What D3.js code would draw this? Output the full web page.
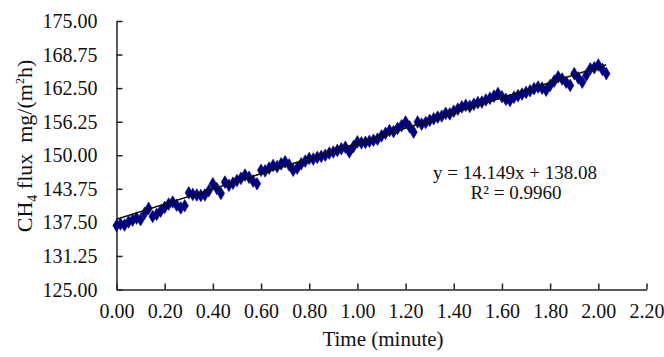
<!DOCTYPE html>
<html>
<head>
<meta charset="utf-8">
<script src="https://cdn.jsdelivr.net/npm/d3@7/dist/d3.min.js"></script>
<style>
  html, body { margin: 0; padding: 0; background: #fff; }
  svg { display: block; }
  text { font-family: "Liberation Serif", "Times New Roman", serif; fill: #111; }
</style>
</head>
<body>
<svg id="chart" width="664" height="357"></svg>
<script>
// Sample times in seconds (x shown in minutes)
const seconds = [
  0,1,2,3,4,5,6,7,8,9,10,11,12,13,14,15,16,17,18,19,20,21,22,23,24,25,26,27,28,29,
  30,31,32,33,34,35,36,37,38,39,40,41,42,43,44,45,46,47,48,49,50,51,52,53,54,55,56,57,58,59,
  60,61,62,63,64,65,66,67,68,69,70,71,72,73,74,75,76,77,78,79,80,81,82,83,84,85,86,87,88,89,
  90,91,92,93,94,95,96,97,98,99,100,101,102,103,104,105,106,107,108,109,110,111,112,113,114,115,116,117,118,119,
  120,121,122
];
// CH4 flux readings
const flux = [
  136.9,137.2,137.0,137.6,137.9,138.3,138.0,139.2,140.1,138.6,
  139.0,139.6,140.3,140.9,141.3,140.7,140.2,140.6,143.0,142.7,
  142.6,142.5,142.6,143.4,144.7,143.8,142.9,145.0,144.4,144.8,
  145.3,145.7,146.3,145.9,145.2,144.7,147.2,147.1,147.6,148.1,
  147.9,148.4,148.8,148.2,147.2,147.6,148.4,148.9,149.4,149.3,
  149.6,149.8,150.0,150.4,150.6,150.9,151.2,151.5,150.6,151.6,
  152.5,152.3,152.4,152.6,152.8,153.0,153.6,154.1,154.6,154.4,
  155.0,155.5,156.2,155.3,154.3,156.2,155.8,156.1,156.5,156.8,
  157.1,157.3,157.8,157.7,158.2,158.6,159.0,159.3,159.1,159.5,
  159.8,159.9,160.3,160.6,161.0,161.5,160.9,160.4,160.2,160.8,
  161.1,161.4,161.7,162.0,162.4,162.7,162.5,162.1,163.0,163.8,
  164.6,164.2,163.6,163.0,165.2,164.4,163.6,164.9,166.1,166.3,
  166.8,166.0,165.2
];
const xTicks = [0,0.2,0.4,0.6,0.8,1.0,1.2,1.4,1.6,1.8,2.0,2.2];
const yTicks = [125,131.25,137.5,143.75,150,156.25,162.5,168.75,175];
const trendSlope = 14.149;
const trendIntercept = 138.08;
const trendRange = [0, 2.033];
const eqLines = ["y = 14.149x + 138.08", "R\u00B2 = 0.9960"];

const svg = d3.select("#chart");
const x = d3.scaleLinear().domain([0, 2.2]).range([116.5, 646.5]);
const y = d3.scaleLinear().domain([125, 175]).range([289.5, 21]);

// axes
const xAxis = d3.axisBottom(x).tickValues(xTicks).tickSizeInner(-6).tickSizeOuter(0).tickPadding(14).tickFormat(d3.format(".2f"));
const yAxis = d3.axisLeft(y).tickValues(yTicks).tickSizeInner(-6).tickSizeOuter(0).tickPadding(19).tickFormat(d3.format(".2f"));

const gx = svg.append("g").attr("transform", "translate(0,289.5)").call(xAxis);
const gy = svg.append("g").attr("transform", "translate(116.5,0)").call(yAxis);
[gx, gy].forEach(g => {
  g.select(".domain").attr("stroke", "#222").attr("stroke-width", 1.5);
  g.selectAll(".tick line").attr("stroke", "#222").attr("stroke-width", 1.5);
  g.selectAll(".tick text").attr("font-family", "Liberation Serif").attr("font-size", 20).attr("fill", "#111");
});
gy.selectAll(".tick text").attr("dy", "0.33em");

// data points (diamonds)
const pts = seconds.map((s, i) => ({t: s / 60, v: flux[i]}));
const diamond = d3.symbol().type(d3.symbolDiamond).size(46);
svg.append("g").selectAll("path").data(pts).join("path")
  .attr("d", diamond)
  .attr("transform", d => `translate(${x(d.t)},${y(d.v)})`)
  .attr("fill", "#000080")
  .attr("stroke", "#000066")
  .attr("stroke-width", 0.6);

// trend line
svg.append("line")
  .attr("x1", x(trendRange[0])).attr("y1", y(trendSlope * trendRange[0] + trendIntercept))
  .attr("x2", x(trendRange[1])).attr("y2", y(trendSlope * trendRange[1] + trendIntercept))
  .attr("stroke", "#111").attr("stroke-width", 1.6);

// equation labels
svg.append("text").attr("x", 515).attr("y", 179).attr("text-anchor", "middle")
  .attr("font-size", 19).text(eqLines[0]);
svg.append("text").attr("x", 516).attr("y", 199).attr("text-anchor", "middle")
  .attr("font-size", 19).text(eqLines[1]);

// axis titles
svg.append("text").attr("x", 383).attr("y", 346).attr("text-anchor", "middle")
  .attr("font-size", 21).text("Time (minute)");

const yt = svg.append("text").attr("transform", "translate(32,146) rotate(-90)")
  .attr("text-anchor", "middle").attr("font-size", 22);
yt.append("tspan").text("CH");
yt.append("tspan").attr("font-size", 14).attr("dy", 5).text("4");
yt.append("tspan").attr("dy", -5).attr("xml:space", "preserve").text("\u00A0flux\u00A0\u00A0mg/(m");
yt.append("tspan").attr("font-size", 12).attr("dy", -8).text("2");
yt.append("tspan").attr("dy", 8).text("h)");
</script>
</body>
</html>
